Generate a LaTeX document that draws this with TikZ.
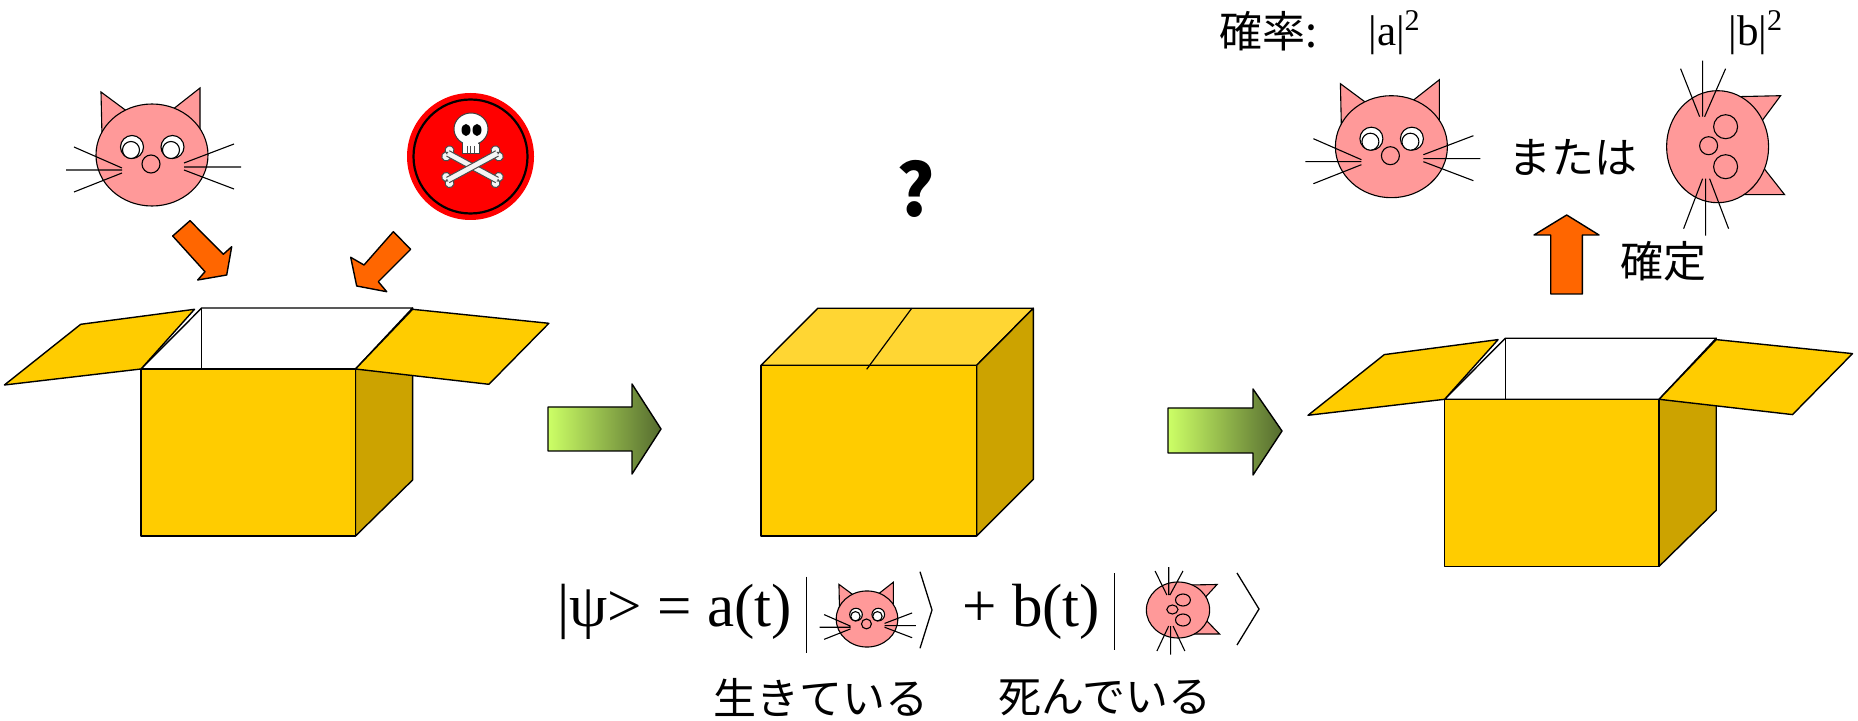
\documentclass[tikz,border=0pt]{standalone}
\usepackage{fontspec}
\setmainfont{Liberation Serif}
\newfontfamily\jpfont{Noto Sans CJK JP}

\definecolor{boxfront}{HTML}{FFCC00}
\definecolor{boxside}{HTML}{CCA300}
\definecolor{boxtop}{HTML}{FFD633}
\definecolor{catpink}{HTML}{FF9999}
\definecolor{arroworange}{HTML}{FF6600}
\definecolor{greenlight}{HTML}{CCFF66}
\definecolor{greendark}{HTML}{556B2F}
\definecolor{poison}{HTML}{FF0000}

\tikzset{
  boxline/.style={draw=black, line width=0.7pt, line join=round},
  catline/.style={draw=black, line width=0.55pt},
  whisker/.style={black, line width=0.55pt},
  orangearrow/.style={fill=arroworange, draw=black, line width=0.7pt, line join=round},
  greenarrow/.style={left color=greenlight, right color=greendark, draw=black, line width=0.7pt, line join=round},
  bonestyle/.style={fill=white!92!gray, draw=gray!60!black, line width=0.5pt},
  jp/.style={font=\jpfont\fontsize{21.5pt}{24pt}\selectfont, inner sep=0pt},
  eq/.style={font=\fontsize{30.5pt}{34pt}\selectfont, inner sep=0pt},
  prob/.style={font=\fontsize{21.5pt}{24pt}\selectfont, inner sep=0pt},
  bracket/.style={line width=0.65pt},
  openbox/.pic={
    \filldraw[fill=boxside, boxline] (214.5,0) -- (271.6,-61) -- (271.6,111) -- (214.5,167) -- cycle;
    \filldraw[fill=white, boxline] (0,0) -- (60.7,-61) -- (271.6,-61) -- (214.5,0) -- cycle;
    \draw[line width=0.5pt] (60.7,-61) -- (60.7,0);
    \filldraw[fill=boxfront, boxline] (0,0) rectangle (214.5,167);
    \filldraw[fill=boxfront, boxline] (0,0) -- (53.5,-59.7) -- (-60.3,-44.7) -- (-136.6,16) -- cycle;
    \filldraw[fill=boxfront, boxline] (214.5,0) -- (271.6,-59.7) -- (407.9,-45.7) -- (347.9,15.3) -- cycle;
  },
  bone/.pic={
    \foreach \s in {-1,1}
      \filldraw[bonestyle] (\s*28,-3.5) circle (4.5) (\s*28,3.5) circle (4.5);
    \fill[white!92!gray] (-28,-3) rectangle (28,3);
    \draw[gray!60!black, line width=0.5pt] (-28,-3) -- (28,-3) (-28,3) -- (28,3);
  },
}

% face, ears, nose and whiskers, centred on the origin
\newcommand\drawcatbody{
  \filldraw[fill=catpink, catline] (-51,-63) -- (-50,-18) -- (-24,-43) -- cycle;
  \filldraw[fill=catpink, catline] (48,-67) -- (48,-22) -- (20,-45) -- cycle;
  \filldraw[fill=catpink, catline] (0,0) ellipse (56 and 51);
  \filldraw[fill=catpink, catline] (-1,9) circle (9);
  \draw[whisker] (-78,-8) -- (-30,13) (-86,15) -- (-30,15) (-78,37) -- (-30,18);
  \draw[whisker] (82,-11) -- (32,8) (89,12) -- (32,12) (82,34) -- (32,15);
}
\newcommand\drawalivecat{
  \drawcatbody
  \foreach \ex/\ix in {-20/-21, 20.5/19}{
    \filldraw[fill=white, catline] (\ex,-8) circle (11.5);
    \filldraw[fill=white, catline] (\ix,-5) circle (8.5);
  }
}
\newcommand\drawdeadcat{
  \begin{scope}[rotate=-90]
    \drawcatbody
  \end{scope}
  \filldraw[fill=catpink, catline] (8,-20) circle (12) (8,20) circle (12);
}

\begin{document}
\begin{tikzpicture}[x=0.5pt, y=-0.5pt]
\fill[white] (0,0) rectangle (1858,721);
\useasboundingbox (0,0) rectangle (1858,721);

% cat and poison go in
\begin{scope}[shift={(152,155)}]
  \drawalivecat
\end{scope}
\fill[poison] (470.5,156.5) circle (63.5);
\draw[line width=1.1pt] (470.5,156.5) circle (57);
\pic[rotate=-28.4] at (472.5,166.7) {bone};
\pic[rotate=28.4] at (472.5,166.7) {bone};
\filldraw[fill=white, draw=gray!50!black, line width=0.5pt] (462,138) rectangle (479,154);
\filldraw[fill=white, draw=gray!50!black, line width=0.5pt] (471,129) ellipse (17 and 16);
\fill[white] (463,138) rectangle (478,146);
\fill[black] (466,130) ellipse (4.5 and 6) (477,130) ellipse (4.5 and 6);
\draw[gray!60!black, line width=0.4pt] (467,146) -- (467,153) (470.5,146) -- (470.5,153) (474,146) -- (474,153);

\draw[orangearrow] (172.7,236) -- (190,220.7) -- (223.3,254.3) -- (231.7,246.7) -- (226.7,275) -- (197.7,280) -- (205,271.7) -- cycle;
\draw[orangearrow] (393.3,231.7) -- (410.7,249.3) -- (378.3,281.7) -- (386.7,291.7) -- (356.7,286) -- (350.7,257.3) -- (364,265) -- cycle;

\pic (boxA) at (141,369) {openbox};

\draw[greenarrow] (548,407) -- (632,407) -- (632,384) -- (661,429) -- (632,474) -- (632,451) -- (548,451) -- cycle;

% closed box
\filldraw[fill=boxtop, boxline] (761,365.3) -- (817.7,308.3) -- (1033.3,308.3) -- (976.7,365.3) -- cycle;
\filldraw[fill=boxside, boxline] (976.7,365.3) -- (1033.3,308.3) -- (1033.3,479.3) -- (976.7,536) -- cycle;
\filldraw[fill=boxfront, boxline] (761,365.3) rectangle (976.7,536);
\draw[line width=0.6pt] (911.7,308.3) -- (866.7,369.3);
\node[font=\jpfont\bfseries\fontsize{36pt}{40pt}\selectfont, inner sep=0pt] (qmark) at (915.5,188.5) {?};

\draw[greenarrow] (1168,408) -- (1253,408) -- (1253,389) -- (1282,431) -- (1253,475) -- (1253,453) -- (1168,453) -- cycle;

\pic (boxC) at (1444.6,399.3) {openbox};

% outcome after opening
\draw[orangearrow] (1550.7,294) -- (1550.7,235) -- (1534,235) -- (1566.7,215) -- (1599,235) -- (1582.3,235) -- (1582.3,294) -- cycle;
\node[jp] (fixed) at (1663.5,261) {確定};
\begin{scope}[shift={(1391.4,146.7)}]
  \drawalivecat
\end{scope}
\begin{scope}[shift={(1717.6,146.7)}]
  \drawdeadcat
\end{scope}
\node[jp] (either) at (1573,157.5) {または};
\node[jp, anchor=west] (prob) at (1219,31) {確率:};
\node[prob, anchor=base west] (pa) at (1368,46) {|a|\textsuperscript{2}};
\node[prob, anchor=base west] (pb) at (1728,46) {|b|\textsuperscript{2}};

% superposition
\node[eq, anchor=base west] (psi) at (557,626) {|ψ> = a(t)};
\draw[bracket] (806.5,576.7) -- (806.5,653);
\begin{scope}[shift={(867,619)}, scale=0.55]
  \drawalivecat
\end{scope}
\draw[bracket] (920,571.7) -- (932,610) -- (920,648.3);
\node[eq, anchor=base west] (bterm) at (962,626) {+ b(t)};
\draw[bracket] (1114.5,573) -- (1114.5,650);
\begin{scope}[shift={(1178,610)}, xscale=0.62, yscale=0.5]
  \drawdeadcat
\end{scope}
\draw[bracket] (1237,573) -- (1259,609) -- (1237,645);
\node[jp] (alive) at (820.5,697.5) {生きている};
\node[jp] (dead) at (1105,697.5) {死んでいる};
\end{tikzpicture}
\end{document}
